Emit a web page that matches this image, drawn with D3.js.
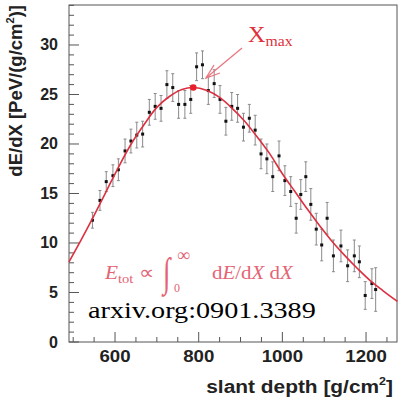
<!DOCTYPE html>
<html><head><meta charset="utf-8">
<script src="https://cdn.jsdelivr.net/npm/d3@7"></script>
<style>body{margin:0;background:#fff}svg{display:block}</style>
</head><body>
<script>
// slant depth [g/cm^2]
const depth = [546,564,579,595,608,624,638,652,666,682,696,710,724,738,752,767,781,795,809,823,837,851,865,879,893,907,921,935,949,963,977,992,1006,1020,1033,1044,1056,1068,1081,1094,1107,1122,1140,1156,1172,1184,1198,1214,1223];
// dE/dX [PeV/(g/cm^2)]
const dedx = [12.3,14.3,16.2,16.8,17.4,19.3,20.3,20.9,21.0,23.2,23.8,23.6,26.0,25.7,24.0,24.0,24.5,27.8,28.0,25.4,26.1,24.5,22.3,23.8,23.6,21.7,22.6,21.4,19.0,18.5,16.7,18.8,16.3,15.2,12.5,14.9,16.7,13.9,11.4,9.8,12.5,8.7,9.7,7.7,8.7,8.1,4.7,5.9,5.3];
const err = [0.8,1.0,1.0,1.1,1.1,1.2,1.2,1.3,1.3,1.3,1.3,1.3,1.4,1.4,1.4,1.4,1.4,1.4,1.4,1.4,1.4,1.4,1.4,1.4,1.4,1.4,1.4,1.5,1.5,1.5,1.5,1.5,1.5,1.5,1.5,1.5,1.5,1.6,1.6,1.6,1.6,1.6,1.6,1.6,1.6,1.6,1.4,1.5,2.2];
// fitted profile
const fitX = [490,520,550,580,610,640,670,700,730,760,787,820,850,880,910,940,970,1000,1030,1060,1090,1120,1150,1180,1210,1240,1275];
const fitY = [8.1,10.4,12.8,15.3,17.8,20.1,22.0,23.7,24.8,25.5,25.7,25.4,24.7,23.6,22.3,20.7,19.0,17.0,15.2,13.4,11.7,10.1,8.7,7.4,6.2,5.2,4.1];
const xmaxPoint = [787, 25.7];
const xTicks = [600,800,1000,1200];
const yTicks = [0,5,10,15,20,25,30];

const W=402,H=402, L=69,R=397,T=5,B=342;
const SX=1.13; // horizontal stretch of the picture's lettering
const sans="Liberation Sans, Arial, sans-serif";
const ff="Liberation Serif, Times New Roman, serif";
const svg=d3.select("body").append("svg").attr("width",W).attr("height",H);
const x=d3.scaleLinear().domain([490,1274]).range([L,R]);
const y=d3.scaleLinear().domain([0,34.04]).range([B,T]);
function stext(px,py,sx,sy){return svg.append("text").attr("transform",`translate(${px},${py}) scale(${sx},${sy||1})`);}

// frame
svg.append("rect").attr("x",L).attr("y",T).attr("width",R-L).attr("height",B-T)
  .attr("fill","none").attr("stroke","#555").attr("stroke-width",1);

// ticks (inside)
const xMinor=d3.range(500,1275,50);
svg.append("g").selectAll("line").data(xMinor).join("line")
  .attr("x1",d=>x(d)).attr("x2",d=>x(d)).attr("y1",B).attr("y2",d=>B-(d%200===0?10:5))
  .attr("stroke","#555");
const yMinor=d3.range(0,35,1);
svg.append("g").selectAll("line").data(yMinor).join("line")
  .attr("y1",d=>y(d)).attr("y2",d=>y(d)).attr("x1",L).attr("x2",d=>L+(d%5===0?10:5))
  .attr("stroke","#555");

// tick labels
svg.append("g").selectAll("text").data(xTicks).join("text")
  .attr("transform",d=>`translate(${x(d)},362) scale(${SX},1)`).attr("text-anchor","middle")
  .attr("font-family",sans).attr("font-weight","bold")
  .attr("font-size",16.5).attr("fill","#222").text(d=>d);
svg.append("g").selectAll("text").data(yTicks).join("text")
  .attr("x",58).attr("y",d=>y(d)+5.5).attr("text-anchor","end")
  .attr("font-family",sans).attr("font-weight","bold")
  .attr("font-size",16).attr("fill","#222").text(d=>d);

// axis titles
const xt=stext(393,393,SX).attr("text-anchor","end")
  .attr("font-family",sans).attr("font-weight","bold")
  .attr("font-size",18.5).attr("fill","#222");
xt.append("tspan").text("slant depth [g/cm");
xt.append("tspan").attr("font-size",11).attr("dy",-8).text("2");
xt.append("tspan").attr("dy",8).text("]");

const yt=svg.append("text").attr("transform","translate(22,5) rotate(-90)").attr("text-anchor","end")
  .attr("font-family",sans).attr("font-weight","bold")
  .attr("font-size",18.5).attr("fill","#222");
yt.append("tspan").text("dE/dX [PeV/(g/cm");
yt.append("tspan").attr("font-size",11).attr("dy",-8).text("2");
yt.append("tspan").attr("dy",8).text(")]");

// data
const pts=depth.map((d,i)=>({x:d,y:dedx[i],e:err[i]}));
const g=svg.append("g");
g.selectAll("line.eb").data(pts).join("line").attr("class","eb")
  .attr("x1",d=>x(d.x)).attr("x2",d=>x(d.x)).attr("y1",d=>y(d.y-d.e)).attr("y2",d=>y(d.y+d.e))
  .attr("stroke","#8a8a8a").attr("stroke-width",1);
["-","+"].forEach(s=>{
  g.selectAll("line.cap"+(s==="+"?"p":"m")).data(pts).join("line").attr("class","cap"+(s==="+"?"p":"m"))
   .attr("x1",d=>x(d.x)-1.5).attr("x2",d=>x(d.x)+1.5)
   .attr("y1",d=>y(s==="+"?d.y+d.e:d.y-d.e)).attr("y2",d=>y(s==="+"?d.y+d.e:d.y-d.e))
   .attr("stroke","#8a8a8a").attr("stroke-width",1);
});

// fit curve
const fit=fitX.map((d,i)=>[d,fitY[i]]);
svg.append("path").datum(fit).attr("fill","none").attr("stroke","#dc3040").attr("stroke-width",1.6)
  .attr("d",d3.line().x(d=>x(d[0])).y(d=>y(d[1])).curve(d3.curveCatmullRom));

g.selectAll("rect.m").data(pts).join("rect").attr("class","m")
  .attr("x",d=>x(d.x)-1.5).attr("y",d=>y(d.y)-1.5).attr("width",3).attr("height",3).attr("fill","#111");

svg.append("circle").attr("cx",x(xmaxPoint[0])).attr("cy",y(xmaxPoint[1])).attr("r",3.3).attr("fill","#e8202c");

// arrow
const ac="#ea7680";
svg.append("line").attr("x1",242).attr("y1",48).attr("x2",206).attr("y2",78).attr("stroke",ac).attr("stroke-width",1.3);
svg.append("path").attr("d","M214,65 L206,78 L220,73").attr("fill","none").attr("stroke",ac).attr("stroke-width",1.3);

// Xmax label
const xl=stext(248,42,1.05).attr("font-family",ff).attr("font-size",23).attr("fill","#e0303c");
xl.append("tspan").text("X");
xl.append("tspan").attr("font-size",15).attr("dy",4).text("max");

// formula
const fc="#e46476";
const f1=stext(105,279,1.12).attr("font-family",ff).attr("font-size",19).attr("fill",fc);
f1.append("tspan").attr("font-style","italic").text("E");
f1.append("tspan").attr("font-size",13).attr("dy",4).text("tot");
f1.append("tspan").attr("dy",-4).text(" \u221D");
stext(163,286,1,1.5).attr("font-family",ff).attr("font-style","italic").attr("font-size",27).attr("fill",fc).text("\u222B");
svg.append("text").attr("x",177).attr("y",261).attr("font-family",ff).attr("font-size",18).attr("fill",fc).text("\u221E");
svg.append("text").attr("x",174).attr("y",291.5).attr("font-family",ff).attr("font-size",12).attr("fill",fc).text("0");
const f2=stext(212,279,1.1).attr("font-family",ff).attr("font-size",19).attr("fill",fc);
f2.append("tspan").text("d");
f2.append("tspan").attr("font-style","italic").text("E");
f2.append("tspan").text("/d");
f2.append("tspan").attr("font-style","italic").text("X");
f2.append("tspan").text(" d");
f2.append("tspan").attr("font-style","italic").text("X");

stext(88,318,1.2).attr("font-family",ff).attr("font-size",23.5).attr("fill","#000").text("arxiv.org:0901.3389");
</script>
</body></html>
